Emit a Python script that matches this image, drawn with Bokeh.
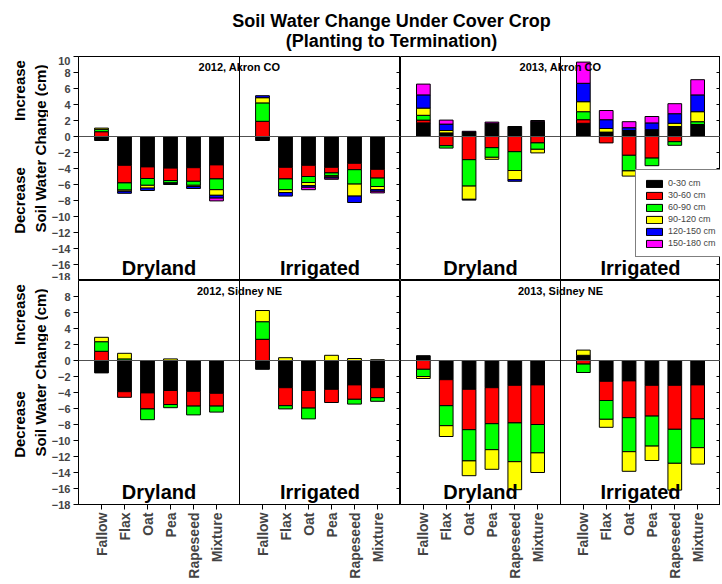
import numpy as np
from bokeh.plotting import figure
from bokeh.layouts import column
from bokeh.models import (ColumnDataSource, Range1d, LinearAxis, FixedTicker, Span, Label,
                          Legend, LegendItem, GridPlot, CustomJSTickFormatter)
from bokeh.embed import file_html
from bokeh.resources import INLINE

crops = ["Fallow", "Flax", "Oat", "Pea", "Rapeseed", "Mixture"]
systems = ["Dryland", "Irrigated"]
layers = ["0-30 cm", "30-60 cm", "60-90 cm", "90-120 cm", "120-150 cm", "150-180 cm"]
colors = ["#000000", "#FF0000", "#00FF00", "#FFFF00", "#0000FF", "#FF00FF"]
y_ticks = list(range(-18, 11, 2))

# Each list: Dryland (Fallow..Mixture) then Irrigated (Fallow..Mixture), cm
# ---- 2012, Akron CO
ak12_0_30 = [-0.5, -3.6, -3.8, -3.95, -3.9, -3.55, -0.5, -3.85, -3.6, -3.85, -3.35, -4.1]
ak12_30_60 = [0.6, -2.2, -1.45, -1.55, -1.7, -1.75, 1.9, -1.45, -1.4, -0.7, -0.8, -1.1]
ak12_60_90 = [0.3, -0.9, -0.85, -0.3, -0.5, -1.35, 2.3, -1.35, -0.75, -0.35, -1.8, -1.05]
ak12_90_120 = [0.15, -0.15, -0.35, -0.1, -0.15, -0.7, 0.65, -0.35, -0.4, -0.15, -1.5, -0.4]
ak12_120_150 = [0, -0.25, -0.3, -0.1, -0.25, -0.35, 0.25, -0.45, -0.2, -0.15, -0.8, -0.2]
ak12_150_180 = [0, 0, 0, 0, 0, -0.35, 0, 0, -0.3, -0.15, 0, -0.2]
# ---- 2013, Akron CO
ak13_0_30 = [1.7, 0.45, 0.55, 1.65, 1.25, 1.9, 1.65, 0.55, 0.75, 0.85, 1.25, 1.5]
ak13_30_60 = [0.35, -1.15, -2.9, -1.4, -1.9, -0.8, 0.45, -0.8, -2.35, -2.7, -0.65, 0]
ak13_60_90 = [0.6, -0.3, -3.3, -1.2, -2.35, -0.8, 1.0, 0, -1.95, -0.95, -0.45, 0.35]
ak13_90_120 = [0.9, 0.3, -1.65, -0.25, -1.15, -0.45, 1.25, 0.45, -0.65, 0, 0.4, 1.25]
ak13_120_150 = [1.65, 0.8, -0.1, 0, -0.2, 0, 2.3, 1.1, 0.35, 0.85, 1.2, 2.1]
ak13_150_180 = [1.35, 0.5, 0.1, 0.15, 0, 0.1, 2.65, 1.15, 0.75, 0.8, 1.25, 1.9]
# ---- 2012, Sidney NE
sn12_0_30 = [-1.55, -3.9, -4.05, -3.75, -3.85, -4.1, -1.1, -3.4, -3.75, -3.6, -3.05, -3.4]
sn12_30_60 = [1.15, -0.7, -2.0, -1.75, -1.85, -1.6, 2.65, -2.25, -2.2, -1.65, -1.8, -1.25]
sn12_60_90 = [1.2, 0.2, -1.35, -0.4, -1.1, -0.75, 2.2, -0.4, -1.35, 0, -0.6, -0.45]
sn12_90_120 = [0.55, 0.7, 0, 0.2, 0, 0, 1.4, 0.35, 0, 0.65, 0.25, 0.1]
sn12_120_150 = [0] * 12
sn12_150_180 = [0] * 12
# ---- 2013, Sidney NE
sn13_0_30 = [0.6, -2.4, -3.6, -3.4, -3.1, -3.05, 0.65, -2.6, -2.55, -3.1, -3.1, -3.05]
sn13_30_60 = [-1.1, -3.25, -5.05, -4.5, -4.7, -4.95, -0.45, -2.4, -4.6, -3.85, -5.5, -4.25]
sn13_60_90 = [-0.9, -2.5, -3.9, -3.25, -4.85, -3.55, -1.05, -2.35, -4.25, -3.75, -4.25, -3.6]
sn13_90_120 = [-0.25, -1.35, -1.85, -2.45, -3.5, -2.45, 0.65, -1.0, -2.45, -1.8, -3.35, -2.05]
sn13_120_150 = [0] * 12
sn13_150_180 = [0] * 12

FONT = "Liberation Sans"
n = len(crops)
# slot positions: crops at 1..6, divider at 7, crops at 8..13
xpos = [i + 1 for i in range(n)] + [i + n + 2 for i in range(n)]
divider = n + 1
xmax = 2 * n + 2

FRAME_H = 224
SIDE_W = 48
LEFT_B = 30
BOTTOM_B = 78


def stack(layer_vals):
    pos = np.zeros(len(xpos))
    neg = np.zeros(len(xpos))
    out = []
    for vals in layer_vals:
        v = np.array(vals, float)
        bottom = np.where(v >= 0, pos, neg)
        top = bottom + v
        pos = np.where(v >= 0, top, pos)
        neg = np.where(v < 0, top, neg)
        keep = v != 0
        out.append(dict(x=np.array(xpos)[keep], bottom=bottom[keep], top=top[keep]))
    return out


def side_axis():
    ax = LinearAxis(ticker=FixedTicker(ticks=y_ticks))
    ax.formatter = CustomJSTickFormatter(code="return '';")
    ax.major_label_standoff = 0
    ax.major_tick_in = 4
    ax.major_tick_out = 0
    ax.minor_tick_line_color = None
    ax.axis_line_color = None
    return ax


def make_panel(layer_vals, name, left, bottom_row):
    width = (LEFT_B + 322) if left else 320
    height = FRAME_H + (BOTTOM_B if bottom_row else 0)
    p = figure(width=width, height=height, x_range=Range1d(0, xmax),
               y_range=Range1d(-18, 10), toolbar_location=None, output_backend="svg",
               x_axis_location=None, y_axis_location=None, min_border=0)
    p.min_border_left = LEFT_B if left else 0
    p.min_border_bottom = BOTTOM_B if bottom_row else 0
    p.grid.visible = False
    p.outline_line_color = "black"
    p.outline_line_width = 1
    p.background_fill_color = "white"

    rends = []
    for k, seg in enumerate(stack(layer_vals)):
        src = ColumnDataSource(seg)
        r = p.vbar(x="x", bottom="bottom", top="top", width=0.6, source=src,
                   fill_color=colors[k], line_color="black", line_width=1)
        rends.append(r)

    p.add_layout(Span(location=0, dimension="width", line_color="#505050", line_width=1))
    p.add_layout(Span(location=divider, dimension="height", line_color="black", line_width=1))

    if left:
        ticks = y_ticks if not bottom_row else [t for t in y_ticks if t < 10]
        ax = LinearAxis(ticker=FixedTicker(ticks=ticks))
        ax.major_label_text_font = FONT
        ax.major_label_text_font_style = "bold"
        ax.major_label_text_font_size = "11px"
        ax.major_tick_out = 5
        ax.major_tick_in = 0
        ax.minor_tick_line_color = None
        ax.major_label_standoff = 3
        ax.axis_line_color = "black"
        p.add_layout(ax, "left")
    p.add_layout(side_axis(), "right")

    if bottom_row:
        bx = LinearAxis(ticker=FixedTicker(ticks=xpos))
        bx.formatter = CustomJSTickFormatter(
            args=dict(pos=xpos, names=crops * 2),
            code="const i = pos.indexOf(Math.round(tick)); return i >= 0 ? names[i] : '';")
        bx.major_label_orientation = np.pi / 2
        bx.major_label_text_font = FONT
        bx.major_label_text_font_style = "bold"
        bx.major_label_text_font_size = "14px"
        bx.major_tick_out = 5
        bx.major_tick_in = 0
        bx.minor_tick_line_color = None
        bx.major_label_standoff = 3
        bx.axis_line_color = "black"
        p.add_layout(bx, "below")

    # system labels
    for j, s in enumerate(systems):
        p.add_layout(Label(x=(xpos[j * n] + xpos[j * n + n - 1]) / 2, y=2, y_units="screen",
                           text=s, text_align="center", text_baseline="bottom",
                           text_font=FONT, text_font_style="bold", text_font_size="20px",
                           text_color="black"))
    # panel name
    p.add_layout(Label(x=divider, y=FRAME_H - 10, y_units="screen", text=name,
                       text_align="center", text_baseline="middle", text_font=FONT,
                       text_font_style="bold", text_font_size="11px", text_color="black"))
    return p, rends


def side_fig(bottom_row):
    height = FRAME_H + (BOTTOM_B if bottom_row else 0)
    s = figure(width=SIDE_W, height=height, toolbar_location=None, output_backend="svg",
               x_axis_location=None, y_axis_location=None, min_border=0,
               x_range=Range1d(0, 1), y_range=Range1d(0, 1))
    s.min_border_bottom = BOTTOM_B if bottom_row else 0
    s.grid.visible = False
    s.outline_line_color = None
    for txt, xs, ys in [("Increase", 19, 190), ("Decrease", 19, 80),
                        ("Soil Water Change (cm)", 40, 132)]:
        s.add_layout(Label(x=xs, y=ys, x_units="screen", y_units="screen", text=txt,
                           angle=np.pi / 2, text_align="center", text_baseline="middle",
                           text_font=FONT, text_font_style="bold", text_font_size="15px",
                           text_color="black"))
    return s


p1, _ = make_panel([ak12_0_30, ak12_30_60, ak12_60_90, ak12_90_120, ak12_120_150, ak12_150_180],
                   "2012, Akron CO", True, False)
p2, r2 = make_panel([ak13_0_30, ak13_30_60, ak13_60_90, ak13_90_120, ak13_120_150, ak13_150_180],
                    "2013, Akron CO", False, False)
p3, _ = make_panel([sn12_0_30, sn12_30_60, sn12_60_90, sn12_90_120, sn12_120_150, sn12_150_180],
                   "2012, Sidney NE", True, True)
p4, _ = make_panel([sn13_0_30, sn13_30_60, sn13_60_90, sn13_90_120, sn13_120_150, sn13_150_180],
                   "2013, Sidney NE", False, True)

legend = Legend(items=[LegendItem(label=layers[k], renderers=[r2[k]]) for k in range(len(layers))],
                location=(235, 23), orientation="vertical")
legend.border_line_color = "black"
legend.border_line_width = 1
legend.background_fill_color = "white"
legend.background_fill_alpha = 1
legend.label_text_font = FONT
legend.label_text_font_size = "9px"
legend.glyph_width = 20
legend.glyph_height = 9
legend.label_height = 10
legend.spacing = 2
legend.padding = 8
legend.margin = 0
legend.label_standoff = 4
p2.add_layout(legend)

# title
pt = figure(width=SIDE_W + LEFT_B + 322 + 320, height=56, toolbar_location=None,
            output_backend="svg", x_axis_location=None, y_axis_location=None, min_border=0,
            x_range=Range1d(0, 1), y_range=Range1d(0, 1))
pt.grid.visible = False
pt.outline_line_color = None
for txt, ys in [("Soil Water Change Under Cover Crop", 36), ("(Planting to Termination)", 16)]:
    pt.add_layout(Label(x=391, y=ys, x_units="screen", y_units="screen", text=txt,
                        text_align="center", text_baseline="middle", text_font=FONT,
                        text_font_style="bold", text_font_size="18px", text_color="black"))

grid = GridPlot(children=[(side_fig(False), 0, 0), (p1, 0, 1), (p2, 0, 2),
                          (side_fig(True), 1, 0), (p3, 1, 1), (p4, 1, 2)],
                toolbar_location=None, spacing=0)

open("out.html", "w").write(file_html(column(pt, grid), INLINE))
